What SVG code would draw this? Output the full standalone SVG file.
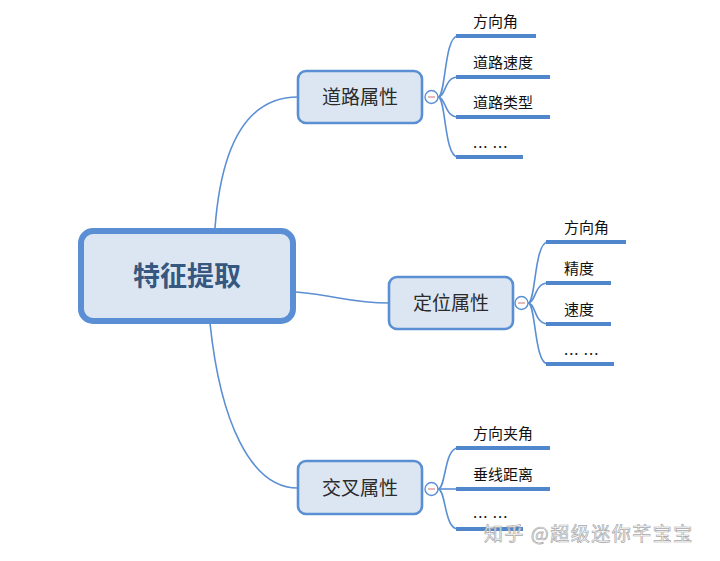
<svg xmlns="http://www.w3.org/2000/svg" width="720" height="561" viewBox="0 0 720 561">
<style>
.bg{fill:#ffffff}
.conn{fill:none;stroke:#5b8fd4;stroke-width:1.6}
.ul{stroke:#4f86cc;stroke-width:4;stroke-linecap:butt}
.node{fill:#dce6f2;stroke:#5b8fd4;stroke-width:2.6}
.root{fill:#dce6f2;stroke:#5a8fd6;stroke-width:6}
.rt{font-family:"Noto Sans CJK SC","Noto Sans",sans-serif;font-size:27px;font-weight:bold;fill:#36577f;text-anchor:middle}
.nt{font-family:"Noto Sans CJK SC","Noto Sans",sans-serif;font-size:19px;fill:#2b2b2b;text-anchor:middle}
.ct{font-family:"Noto Sans CJK SC","Noto Sans",sans-serif;font-size:15px;fill:#111111}
.dots{letter-spacing:1px}
.tog{fill:#ffffff;stroke:#5b8fd4;stroke-width:1.4}
.minus{stroke:#d08a8a;stroke-width:1.2}
.wm{font-family:"Noto Sans CJK SC","Noto Sans",sans-serif;font-size:19px;letter-spacing:1.5px;fill:#ffffff;fill-opacity:0.85;stroke:#a8a8a8;stroke-width:0.7}
</style>
<rect class="bg" x="0" y="0" width="720" height="561"/>
<g id="connectors">
<path class="conn" d="M215,228 C222,135 252,97 298,97"/>
<path class="conn" d="M296,292 C340,296 350,303 389,303"/>
<path class="conn" d="M210,323 C220,420 250,488 298,488"/>
<path class="conn" d="M438,97 C446,97 444,36 458,36"/>
<path class="conn" d="M438,97 C446,97 444,77 458,77"/>
<path class="conn" d="M438,97 C446,97 444,117 458,117"/>
<path class="conn" d="M438,97 C446,97 444,157 458,157"/>
<path class="conn" d="M528,303 C536,303 534,242 548,242"/>
<path class="conn" d="M528,303 C536,303 534,283 548,283"/>
<path class="conn" d="M528,303 C536,303 534,324 548,324"/>
<path class="conn" d="M528,303 C536,303 534,364 548,364"/>
<path class="conn" d="M438,489 C446,489 444,448 458,448"/>
<path class="conn" d="M438,489 C446,489 444,489 458,489"/>
<path class="conn" d="M438,489 C446,489 444,529 458,529"/>
<line class="ul" x1="456" y1="36" x2="536" y2="36"/>
<line class="ul" x1="456" y1="77" x2="550" y2="77"/>
<line class="ul" x1="456" y1="117" x2="550" y2="117"/>
<line class="ul" x1="456" y1="157" x2="523" y2="157"/>
<line class="ul" x1="546" y1="242" x2="626" y2="242"/>
<line class="ul" x1="546" y1="283" x2="611" y2="283"/>
<line class="ul" x1="546" y1="324" x2="611" y2="324"/>
<line class="ul" x1="546" y1="364" x2="614" y2="364"/>
<line class="ul" x1="456" y1="448" x2="550" y2="448"/>
<line class="ul" x1="456" y1="489" x2="550" y2="489"/>
<line class="ul" x1="456" y1="529" x2="523" y2="529"/>
</g>
<g id="root">
<rect class="root" x="81" y="231" width="212" height="90" rx="12"/>
<text class="rt" x="187" y="286">特征提取</text>
</g>
<g id="n-road">
<rect class="node" x="298" y="71" width="124" height="52" rx="8"/>
<text class="nt" x="360" y="104">道路属性</text>
<circle class="tog" cx="431.5" cy="97" r="6.5"/>
<line class="minus" x1="428" y1="97" x2="435" y2="97"/>
</g>
<g id="n-pos">
<rect class="node" x="389" y="277" width="124" height="52" rx="8"/>
<text class="nt" x="451" y="310">定位属性</text>
<circle class="tog" cx="521.5" cy="303" r="6.5"/>
<line class="minus" x1="518" y1="303" x2="525" y2="303"/>
</g>
<g id="n-cross">
<rect class="node" x="298" y="461" width="124" height="53" rx="8"/>
<text class="nt" x="360" y="495">交叉属性</text>
<circle class="tog" cx="431.5" cy="489" r="6.5"/>
<line class="minus" x1="428" y1="489" x2="435" y2="489"/>
</g>
<g id="c-road-1"><text class="ct" x="473" y="27">方向角</text></g>
<g id="c-road-2"><text class="ct" x="473" y="68">道路速度</text></g>
<g id="c-road-3"><text class="ct" x="473" y="108">道路类型</text></g>
<g id="c-road-4"><text class="ct dots" x="473" y="148">... ...</text></g>
<g id="c-pos-1"><text class="ct" x="564" y="233">方向角</text></g>
<g id="c-pos-2"><text class="ct" x="564" y="274">精度</text></g>
<g id="c-pos-3"><text class="ct" x="564" y="315">速度</text></g>
<g id="c-pos-4"><text class="ct dots" x="564" y="355">... ...</text></g>
<g id="c-cross-1"><text class="ct" x="473" y="439">方向夹角</text></g>
<g id="c-cross-2"><text class="ct" x="473" y="480">垂线距离</text></g>
<g id="c-cross-3"><text class="ct dots" x="473" y="518">... ...</text></g>
<text class="wm" x="484" y="541">知乎 @超级迷你芊宝宝</text>
</svg>
